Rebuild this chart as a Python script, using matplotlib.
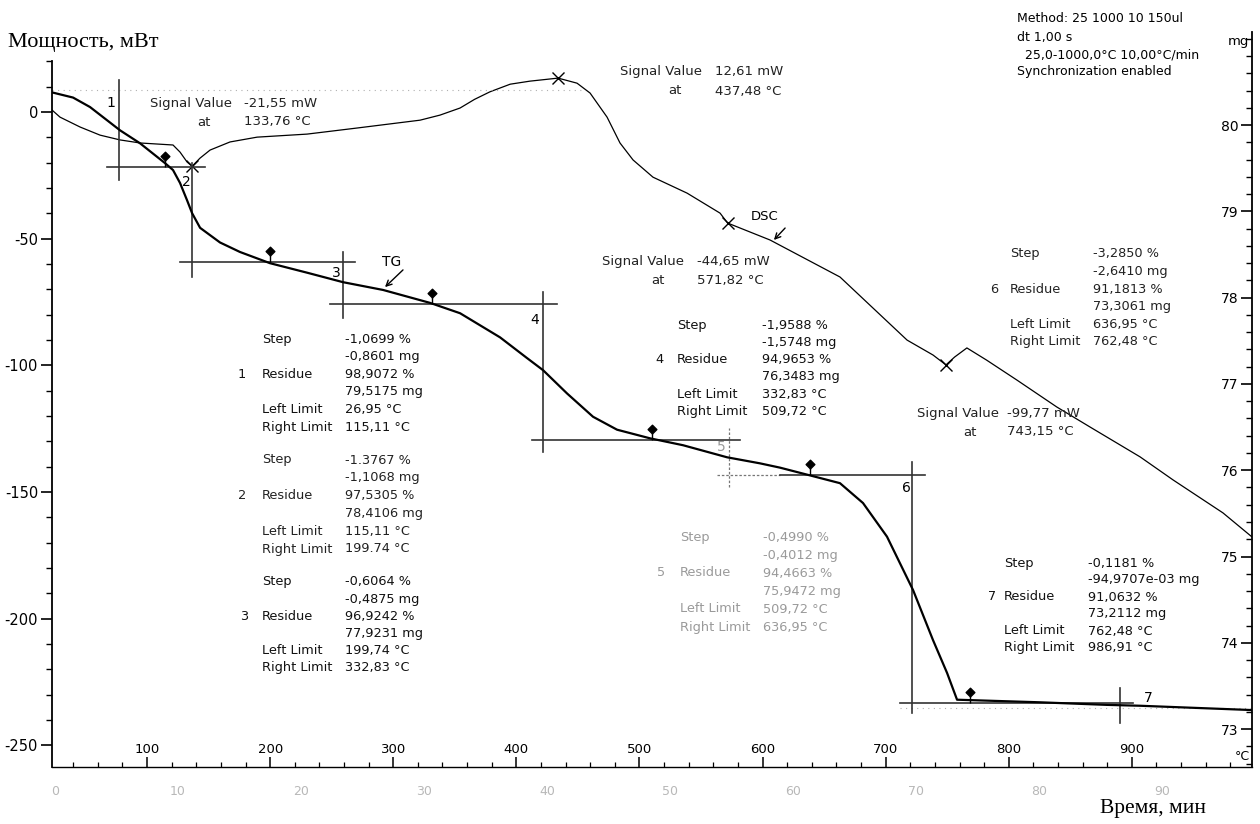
import numpy as np
import matplotlib
matplotlib.use('Agg')
import matplotlib.pyplot as plt
from matplotlib.path import Path

plt.rcParams['font.family'] = 'DejaVu Sans'
plt.rcParams['axes.unicode_minus'] = False

# DSC curve, mW vs temperature
dsc_T = [22.8, 29.3, 45.6, 61.8, 78.1, 94.3, 121.1, 126.8, 132.5, 136.6, 143.0, 151.2,
         167.4, 189.4, 230.0, 270.6, 321.8, 338.0, 354.3, 366.0, 378.6, 395.0, 411.0, 433.9,
         449.3, 459.9, 473.7, 484.2, 494.8, 511.0, 538.7, 565.5, 571.6, 606.1, 662.9, 717.4,
         738.5, 749.0, 756.0, 766.0, 782.0, 806.7, 839.0, 866.0, 906.7, 933.5, 974.0, 997.6]
dsc_mW = [0.8, -2.0, -5.9, -9.1, -11.0, -12.2, -13.0, -15.8, -19.7, -21.4, -18.2, -15.0,
          -11.8, -9.9, -8.7, -6.3, -3.2, -1.2, 1.6, 5.0, 8.0, 11.0, 12.2, 13.4,
          11.4, 7.5, -2.0, -12.2, -18.9, -25.7, -32.0, -39.9, -43.8, -50.5, -65.1, -90.0,
          -95.9, -99.8, -96.7, -93.1, -97.9, -105.8, -116.4, -124.3, -136.1, -145.2, -158.2, -167.7]

# TG curve, mg vs temperature
tg_T = [22.8, 39.9, 53.7, 78.1, 94.3, 114.6, 121.1, 126.8, 132.5, 136.6, 143.1, 159.3,
        175.5, 199.9, 230.0, 259.2, 291.7, 329.9, 354.3, 386.8, 408.7, 421.7, 441.2,
        462.3, 481.8, 508.6, 535.4, 571.2, 597.9, 614.2, 638.6, 662.9, 681.6, 701.1,
        722.3, 738.5, 749.9, 758.0, 825.4, 879.9, 906.7, 997.6]
tg_mg = [80.38, 80.32, 80.21, 79.94, 79.79, 79.56, 79.48, 79.33, 79.13, 78.98, 78.81, 78.64,
         78.53, 78.40, 78.29, 78.18, 78.09, 77.94, 77.82, 77.54, 77.30, 77.16, 76.89,
         76.62, 76.47, 76.37, 76.29, 76.15, 76.08, 76.03, 75.94, 75.85, 75.62, 75.23,
         74.61, 74.03, 73.65, 73.34, 73.31, 73.28, 73.27, 73.22]

# signal value points (x marks on DSC), as placed in the picture
sig_T = [136.6, 433.9, 571.6, 749.0]
sig_mW = [-21.4, 13.4, -43.8, -99.8]

# TG steps: marker positions at step ends and residue levels
mark_T = [114.6, 199.9, 331.5, 510.2, 638.6, 768.6]
residues = [79.5175, 78.4106, 77.9231, 76.3483, 75.9472, 73.3061]
step_vT = [77.3, 136.6, 259.2, 421.7, 572.8, 721.4, 890.4]
step_vmg = [(79.36, 80.52), (78.24, 79.56), (77.76, 78.53), (76.21, 78.07),
            (75.81, 76.49), (73.19, 76.10), (73.07, 73.48)]
step_hT = [(67.5, 147.1), (126.8, 269.0), (248.7, 433.0), (412.8, 581.7),
           (563.0, 732.0), (711.7, 901.0)]

step_blocks = [
    ('1', [('Step', '-1,0699 %'), ('', '-0,8601 mg'), ('Residue', '98,9072 %'),
           ('', '79,5175 mg'), ('Left Limit', '26,95 °C'), ('Right Limit', '115,11 °C')]),
    ('2', [('Step', '-1.3767 %'), ('', '-1,1068 mg'), ('Residue', '97,5305 %'),
           ('', '78,4106 mg'), ('Left Limit', '115,11 °C'), ('Right Limit', '199.74 °C')]),
    ('3', [('Step', '-0,6064 %'), ('', '-0,4875 mg'), ('Residue', '96,9242 %'),
           ('', '77,9231 mg'), ('Left Limit', '199,74 °C'), ('Right Limit', '332,83 °C')]),
    ('4', [('Step', '-1,9588 %'), ('', '-1,5748 mg'), ('Residue', '94,9653 %'),
           ('', '76,3483 mg'), ('Left Limit', '332,83 °C'), ('Right Limit', '509,72 °C')]),
    ('5', [('Step', '-0,4990 %'), ('', '-0,4012 mg'), ('Residue', '94,4663 %'),
           ('', '75,9472 mg'), ('Left Limit', '509,72 °C'), ('Right Limit', '636,95 °C')]),
    ('6', [('Step', '-3,2850 %'), ('', '-2,6410 mg'), ('Residue', '91,1813 %'),
           ('', '73,3061 mg'), ('Left Limit', '636,95 °C'), ('Right Limit', '762,48 °C')]),
    ('7', [('Step', '-0,1181 %'), ('', '-94,9707e-03 mg'), ('Residue', '91,0632 %'),
           ('', '73,2112 mg'), ('Left Limit', '762,48 °C'), ('Right Limit', '986,91 °C')]),
]
# block layout in pixels: label x, value x, number x, first row y, row step, colour
block_pos = [(262, 345, 238, 339, 17.6, '#111111'),
             (262, 345, 238, 460, 17.8, '#222222'),
             (262, 345, 240, 582, 17.2, '#111111'),
             (677, 762, 655, 325, 17.3, '#111111'),
             (680, 763, 657, 537, 18.0, '#9a9a9a'),
             (1010, 1093, 990, 254, 17.6, '#222222'),
             (1004, 1088, 988, 563, 17.0, '#111111')]

sig_texts = [(150, 244, 197, 103, '-21,55 mW', '133,76 °C'),
             (620, 715, 668, 72, '12,61 mW', '437,48 °C'),
             (602, 697, 651, 261, '-44,65 mW', '571,82 °C'),
             (917, 1007, 963, 413, '-99,77 mW', '743,15 °C')]

W, H = 1260, 824


def fx(x):
    return x / W


def fy(y):
    return 1 - y / H


fig = plt.figure(figsize=(12.6, 8.24), dpi=100)
ax = fig.add_axes([fx(52), fy(767), 1200 / W, (767 - 32) / H])
ax2 = ax.twinx()

# DSC
ax.plot(dsc_T, dsc_mW, color='k', lw=0.9)
ax.plot(sig_T, sig_mW, 'x', color='k', ms=8, mew=1.0)
ax.plot([23, 455], [8.7, 8.7], color='#b0b0b0', lw=0.8, ls=(0, (1, 4)))

ax.set_xlim(22.8, 997.6)
ax.set_ylim(-258.5, 31.6)
ax.spines['top'].set_visible(False)
ax.spines['right'].set_visible(False)
ax.spines['left'].set_bounds(-258.5, 20)
ax.spines['left'].set_linewidth(1.3)
ax.spines['bottom'].set_linewidth(1.0)

ax.set_yticks(np.arange(-250, 1, 50))
ax.set_yticks(np.arange(-250, 21, 10), minor=True)
ax.tick_params(axis='y', which='major', direction='out', length=8, width=1.2, pad=2, labelsize=10.5)
ax.tick_params(axis='y', which='minor', direction='out', length=4.5, width=1.0)
ax.set_xticks(np.arange(100, 901, 100))
ax.set_xticks(np.arange(40, 990, 20), minor=True)
ax.tick_params(axis='x', which='major', direction='in', length=7, width=1.1, pad=-17, labelsize=9.5)
ax.tick_params(axis='x', which='minor', direction='in', length=3.5, width=0.9)

# time axis (faint, below)
sec = ax.secondary_xaxis('bottom', functions=(lambda T: (T - 25) / 10, lambda t: t * 10 + 25))
sec.set_xticks(np.arange(0, 91, 10))
sec.spines['bottom'].set_visible(False)
sec.tick_params(length=0, pad=13, labelcolor='#b8b8b8', labelsize=9)

# TG
ax2.plot(tg_T, tg_mg, color='k', lw=1.6, zorder=3)
ax2.plot([711.7, 998], [73.24, 73.24], color='#b0b0b0', lw=0.8, ls=(0, (1, 4)))

for i, T in enumerate(step_vT):
    lo, hi = step_vmg[i]
    if i == 4:
        ax2.plot([T, T], [lo, hi], color='#777777', lw=0.9, ls=(0, (2, 1.5)))
    else:
        ax2.plot([T, T], [lo, hi], color='#333333', lw=1.2)
for i, (a, b) in enumerate(step_hT):
    if i == 4:
        ax2.plot([a, 614], [residues[i]] * 2, color='#777777', lw=0.9, ls=(0, (2, 1.5)))
        ax2.plot([614, b], [residues[i]] * 2, color='#333333', lw=1.2)
    else:
        ax2.plot([a, b], [residues[i]] * 2, color='#333333', lw=1.2)

# diamond-on-stem marker anchored at stem foot
verts = [(0, 0), (0, 0.9), (0, 0.9), (0.6, 1.5), (0, 2.1), (-0.6, 1.5), (0, 0.9)]
codes = [Path.MOVETO, Path.LINETO, Path.MOVETO, Path.LINETO, Path.LINETO, Path.LINETO, Path.CLOSEPOLY]
stem_marker = Path(verts, codes)
ax2.plot(mark_T, residues, ls='none', marker=stem_marker, ms=22,
         mfc='k', mec='k', mew=1.0, zorder=4)

ax2.set_ylim(72.56, 81.08)
for s in ['top', 'left', 'bottom']:
    ax2.spines[s].set_visible(False)
ax2.spines['right'].set_linewidth(1.3)
ax2.set_yticks(np.arange(73, 81))
ax2.set_yticks(np.round(np.arange(72.6, 81.05, 0.2), 1), minor=True)
ax2.tick_params(axis='y', which='major', direction='in', length=8, width=1.2, pad=-9.5, labelsize=10)
ax2.tick_params(axis='y', which='minor', direction='in', length=4.5, width=1.0)
for t in ax2.get_yticklabels():
    t.set_horizontalalignment('right')

# axis titles
fig.text(fx(8), fy(42), 'Мощность, мВт', family='Liberation Serif', fontsize=16, va='center')
fig.text(fx(1100), fy(808), 'Время, мин', family='Liberation Serif', fontsize=15.5, va='center')
fig.text(fx(1228), fy(42), 'mg', fontsize=9.5, va='center')
fig.text(fx(1250), fy(757), '°C', fontsize=9, ha='right', va='center')

# method info
meth = [(1017, 18, 'Method: 25 1000 10 150ul'), (1017, 37, 'dt 1,00 s'),
        (1025, 55, '25,0-1000,0°C 10,00°C/min'), (1017, 72, 'Synchronization enabled')]
for x, y, s in meth:
    fig.text(fx(x), fy(y), s, fontsize=9, va='center')

# signal value labels
for xl, xv, xa, y, v, t in sig_texts:
    fig.text(fx(xl), fy(y), 'Signal Value', fontsize=9.5, va='center', color='#222222')
    fig.text(fx(xv), fy(y), v, fontsize=9.5, va='center', color='#222222')
    fig.text(fx(xa), fy(y + 19), 'at', fontsize=9.5, va='center', color='#222222')
    fig.text(fx(xv), fy(y + 19), t, fontsize=9.5, va='center', color='#222222')

# step tables
for (num, rows), (xl, xv, xn, y0, dy, col) in zip(step_blocks, block_pos):
    for k, (lab, val) in enumerate(rows):
        y = y0 + k * dy
        if lab:
            fig.text(fx(xl), fy(y), lab, fontsize=9.3, va='center', color=col)
        fig.text(fx(xv), fy(y), val, fontsize=9.3, va='center', color=col)
    fig.text(fx(xn), fy(y0 + 2 * dy), num, fontsize=9.3, va='center', color=col)

# step numbers at crosshairs
step_nums = [('1', 111, 103, 'k'), ('2', 186, 182, 'k'), ('3', 336, 273, 'k'), ('4', 535, 320, 'k'),
             ('5', 721, 447, '#999999'), ('6', 906, 488, 'k'), ('7', 1148, 698, 'k')]
for s, x, y, c in step_nums:
    fig.text(fx(x), fy(y), s, fontsize=10, ha='center', va='center', color=c)

# curve name labels with arrows
fig.text(fx(392), fy(262), 'TG', fontsize=10, ha='center', va='center')
ax.annotate('', xy=(383, H - 289), xytext=(405, H - 268), xycoords='figure pixels',
            textcoords='figure pixels',
            arrowprops=dict(arrowstyle='->', color='k', lw=1.0, mutation_scale=10))
fig.text(fx(765), fy(217), 'DSC', fontsize=9.5, ha='center', va='center')
ax.annotate('', xy=(772, H - 242), xytext=(787, H - 226), xycoords='figure pixels',
            textcoords='figure pixels',
            arrowprops=dict(arrowstyle='->', color='k', lw=1.0, mutation_scale=10))

fig.savefig('out.png', dpi=100)
